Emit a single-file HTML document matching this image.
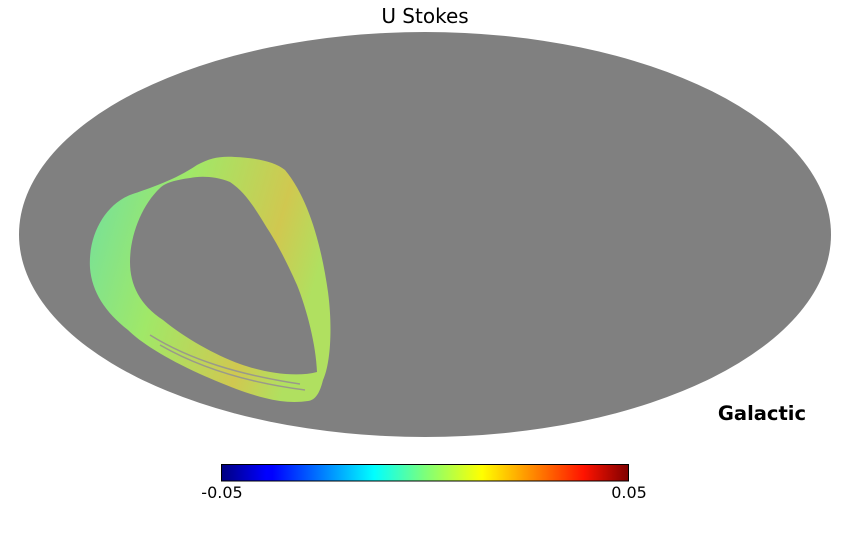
<!DOCTYPE html>
<html><head><style>
body{margin:0;background:#fff;width:850px;height:540px;overflow:hidden;font-family:"DejaVu Sans","Liberation Sans",sans-serif;}
</style></head><body>
<svg width="850" height="540" viewBox="0 0 850 540" xmlns="http://www.w3.org/2000/svg">
<defs>
<linearGradient id="jet" x1="0" x2="1" y1="0" y2="0">
<stop offset="0" stop-color="#00007f"/>
<stop offset="0.11" stop-color="#0000ff"/>
<stop offset="0.125" stop-color="#0000ff"/>
<stop offset="0.34" stop-color="#00dcff"/>
<stop offset="0.375" stop-color="#00ffff"/>
<stop offset="0.5" stop-color="#7dff7a"/>
<stop offset="0.64" stop-color="#ffff00"/>
<stop offset="0.89" stop-color="#ff1300"/>
<stop offset="1" stop-color="#7f0000"/>
</linearGradient>
<linearGradient id="ring" x1="0" y1="0" x2="1" y2="0.3">
<stop offset="0" stop-color="#70e0a0"/>
<stop offset="0.4" stop-color="#a0e868"/>
<stop offset="0.8" stop-color="#d0c850"/>
<stop offset="1" stop-color="#b0e060"/>
</linearGradient>
</defs>
<text x="425" y="23" font-size="20" text-anchor="middle" fill="#000">U Stokes</text>
<ellipse cx="425" cy="234.5" rx="406" ry="202.5" fill="#808080"/>
<path fill="url(#ring)" fill-rule="evenodd" d="
M 90,268 C 88,235 105,205 130,195 C 150,188 175,180 197,165 C 210,158 220,156 235,157 C 258,158 275,162 285,170 C 310,200 322,250 328,292 C 333,330 330,365 323,380 C 320,392 316,400 308,401 C 295,403 280,402 265,398 C 245,393 225,385 200,374 C 165,358 140,342 128,330 C 105,312 92,292 90,268 Z
M 130,262 C 130,285 140,305 163,320 C 185,338 215,355 240,364 C 262,372 295,378 317,372 C 316,345 307,310 297,285 C 285,258 275,240 267,228 C 255,208 245,192 230,182 C 215,176 200,176 190,178 C 175,180 165,183 160,188 C 142,205 130,235 130,262 Z"/>
<path d="M 150,335 C 190,360 240,375 300,384 M 160,345 C 200,368 250,383 305,390" stroke="#9a9a8a" stroke-width="1.5" fill="none"/>
<text x="762" y="420" font-size="19.5" font-weight="bold" text-anchor="middle" fill="#000">Galactic</text>
<rect x="221.5" y="464.5" width="407" height="16.5" fill="url(#jet)" stroke="#000" stroke-width="1"/>
<text x="222" y="498" font-size="16" text-anchor="middle" fill="#000">-0.05</text>
<text x="629" y="498" font-size="16" text-anchor="middle" fill="#000">0.05</text>
</svg>
</body></html>
